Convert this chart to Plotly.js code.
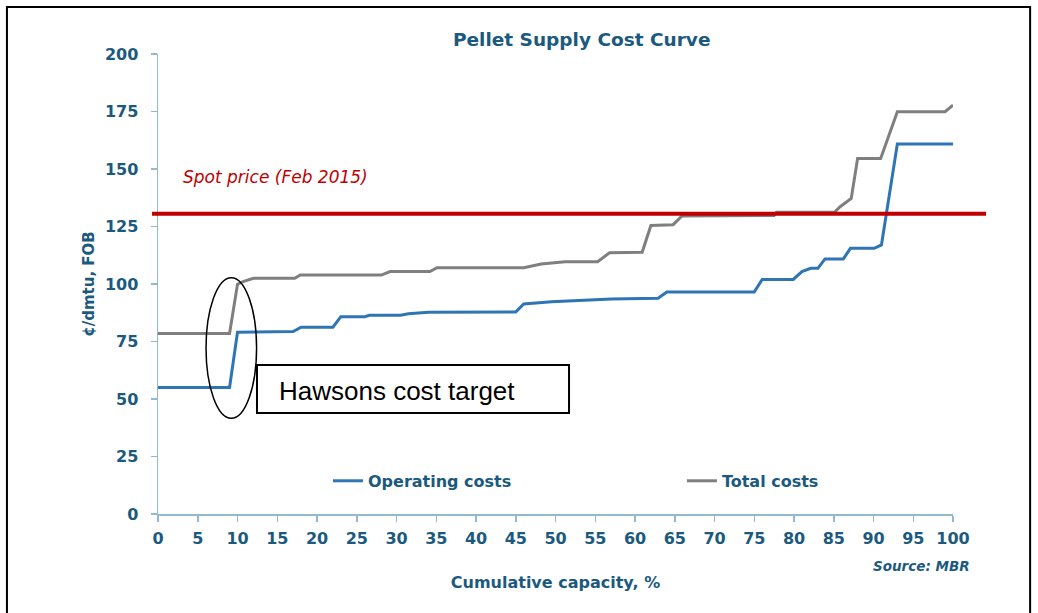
<!DOCTYPE html>
<html>
<head>
<meta charset="utf-8">
<script src="https://cdn.plot.ly/plotly-3.0.1.min.js"></script>
<style>
  html, body { margin: 0; padding: 0; background: #ffffff; }
  #chart { width: 1038px; height: 613px; }
</style>
</head>
<body>
<div id="chart"></div>
<script>
// ---- Data ----
const opCapacity = [0, 9, 10, 17, 18, 22, 23, 26, 26.6, 30.5, 31.5, 34, 45, 46, 49.5, 57, 62.9, 64, 75, 76, 79.9, 81, 82.1, 83, 83.9, 86.2, 87.1, 90.1, 91, 93, 100];
const opCost     = [55, 55, 79, 79.3, 81.2, 81.2, 85.8, 85.8, 86.4, 86.4, 87.1, 87.7, 87.8, 91.3, 92.3, 93.5, 93.8, 96.5, 96.5, 102, 102, 105.4, 106.8, 106.8, 110.9, 110.9, 115.5, 115.5, 117, 160.9, 160.9];

const totCapacity = [0, 9, 10, 10.7, 12, 17.2, 17.9, 28.1, 29.2, 34.2, 35.1, 46, 48.2, 51.2, 55.3, 56.8, 60.9, 62, 64.8, 65.9, 77.5, 77.8, 85.1, 85.8, 87.2, 88, 90.9, 93, 99, 100];
const totCost     = [78.5, 78.5, 99.9, 101, 102.5, 102.5, 103.9, 103.9, 105.4, 105.4, 107.1, 107.1, 108.7, 109.7, 109.7, 113.6, 113.8, 125.4, 125.8, 129.6, 129.8, 131.2, 131.2, 133.6, 137.2, 154.6, 154.6, 174.9, 174.9, 177.8];

const seriesNames = ["Operating costs", "Total costs"];
const spotPrice = [130.5];
const spotLabel = "Spot price (Feb 2015)";
const xTickVals = [0, 5, 10, 15, 20, 25, 30, 35, 40, 45, 50, 55, 60, 65, 70, 75, 80, 85, 90, 95, 100];
const yTickVals = [0, 25, 50, 75, 100, 125, 150, 175, 200];

// ---- Styling ----
const TEXT = "#1b5a7e";
const AXIS = "#92b9d0";
const FONT = "DejaVu Sans";

const traces = [
  {
    x: opCapacity, y: opCost, name: seriesNames[0], type: "scatter", mode: "lines",
    line: { color: "#2e75b6", width: 3 }, legend: "legend"
  },
  {
    x: totCapacity, y: totCost, name: seriesNames[1], type: "scatter", mode: "lines",
    line: { color: "#7f7f7f", width: 3 }, legend: "legend2"
  }
];

const layout = {
  width: 1038, height: 613,
  margin: { l: 158, r: 85, t: 54, b: 99 },
  paper_bgcolor: "#ffffff", plot_bgcolor: "#ffffff",
  font: { family: FONT, color: TEXT },
  title: {
    text: "Pellet Supply Cost Curve",
    font: { family: FONT, size: 18.5, weight: "bold", color: TEXT },
    xref: "paper", x: 0.533, xanchor: "center",
    yref: "container", y: 0.935, yanchor: "middle"
  },
  xaxis: {
    range: [0, 100], tickvals: xTickVals, ticktext: xTickVals.map(String),
    ticks: "outside", ticklen: 6, tickwidth: 1.5, tickcolor: AXIS,
    showline: true, linecolor: AXIS, linewidth: 1.5,
    showgrid: false, zeroline: false, fixedrange: true,
    ticklabelstandoff: 3,
    tickfont: { family: FONT, size: 16, weight: "bold", color: TEXT },
    title: { text: "Cumulative capacity, %", font: { family: FONT, size: 16, weight: "bold", color: TEXT }, standoff: 30 },
    automargin: false
  },
  yaxis: {
    range: [0, 200], tickvals: yTickVals, ticktext: yTickVals.map(String),
    ticks: "outside", ticklen: 6, tickwidth: 1.5, tickcolor: AXIS,
    showline: true, linecolor: AXIS, linewidth: 1.5,
    showgrid: false, zeroline: false, fixedrange: true,
    ticklabelstandoff: 9,
    tickfont: { family: FONT, size: 16, weight: "bold", color: TEXT },
    title: { text: "¢/dmtu, FOB", font: { family: FONT, size: 15, weight: "bold", color: TEXT }, standoff: 6 },
    automargin: false
  },
  showlegend: true,
  legend: {
    orientation: "h", x: 0.2138, xanchor: "left", y: 0.072, yanchor: "middle",
    bgcolor: "rgba(0,0,0,0)", borderwidth: 0,
    font: { family: FONT, size: 16, weight: "bold", color: TEXT }
  },
  legend2: {
    orientation: "h", x: 0.659, xanchor: "left", y: 0.072, yanchor: "middle",
    bgcolor: "rgba(0,0,0,0)", borderwidth: 0,
    font: { family: FONT, size: 16, weight: "bold", color: TEXT }
  },
  shapes: [
    // spot price line
    { type: "line", xref: "paper", yref: "y", x0: -0.0075, x1: 1.0415, y0: spotPrice[0], y1: spotPrice[0],
      line: { color: "#c00000", width: 4 }, layer: "above" },
    // ellipse highlighting Hawsons
    { type: "circle", xref: "x", yref: "y", x0: 6.04, x1: 12.4, y0: 41.6, y1: 102.7,
      line: { color: "#000000", width: 1.5 }, layer: "above" },
    // annotation box
    { type: "rect", xref: "x", yref: "y", x0: 12.45, x1: 51.7, y0: 43.9, y1: 64.8,
      line: { color: "#000000", width: 2 }, fillcolor: "#ffffff", layer: "above" },
    // outer frame
    { type: "rect", xref: "paper", yref: "paper", x0: -0.19, x1: 1.097, y0: -0.3, y1: 1.102,
      line: { color: "#000000", width: 2 }, fillcolor: "rgba(0,0,0,0)", layer: "above" }
  ],
  annotations: [
    { text: spotLabel, xref: "x", yref: "y", x: 2.9, y: 146.5, xanchor: "left", yanchor: "middle",
      showarrow: false, font: { family: FONT, size: 17, style: "italic", color: "#c00000" } },
    { text: "Hawsons cost target", xref: "x", yref: "y", x: 15.0, y: 53.5, xanchor: "left", yanchor: "middle",
      showarrow: false, font: { family: "Liberation Sans", size: 26, color: "#000000" } },
    { text: "Source: MBR", xref: "paper", yref: "paper", x: 1.024, y: -0.113, xanchor: "right", yanchor: "middle",
      showarrow: false, font: { family: FONT, size: 13.5, weight: "bold", style: "italic", color: TEXT } }
  ]
};

Plotly.newPlot("chart", traces, layout, { displayModeBar: false, staticPlot: true });
</script>
</body>
</html>
